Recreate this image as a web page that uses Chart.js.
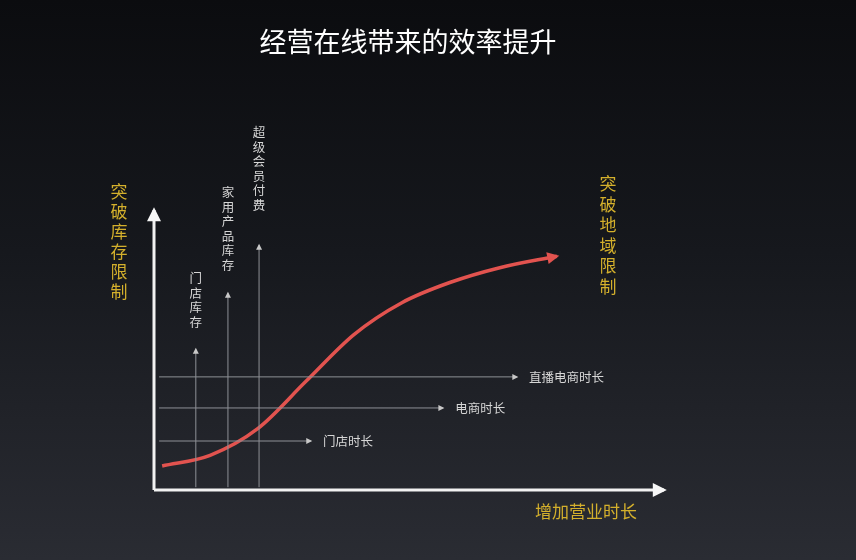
<!DOCTYPE html>
<html>
<head>
<meta charset="utf-8">
<script src="https://cdn.jsdelivr.net/npm/chart.js@4"></script>
<style>
  html, body { margin: 0; padding: 0; }
  body {
    width: 856px; height: 560px; overflow: hidden;
    background: linear-gradient(to bottom, #0b0c0f 0%, #16181d 45%, #2a2c33 100%);
  }
  canvas { display: block; }
</style>
</head>
<body>
<canvas id="chart" width="856" height="560"></canvas>
<script>
// efficiency curve (x: business hours, y: inventory limit)
const curveX = [1.6, 11.0, 20.4, 29.8, 39.2, 48.6, 58.0, 67.8, 79.0];
const curveY = [8.6, 12.4, 22.0, 38.8, 55.5, 66.9, 74.1, 79.4, 83.5];

// horizontal arrows: business hours
const hLabels = ['门店时长', '电商时长', '直播电商时长'];
const hLevels = [17.5, 29.3, 40.4];
const hEnds = [30.8, 56.7, 71.2];

// vertical arrows: inventory
const vLabels = ['门店库存', '家用产品库存', '超级会员付费'];
const vPositions = [8.2, 14.5, 20.6];
const vTops = [50.4, 70.4, 87.5];

const title = '经营在线带来的效率提升';
const yAxisLabel = '突破库存限制';
const curveLabel = '突破地域限制';
const xAxisLabel = '增加营业时长';

const FONT = '"Noto Sans CJK SC", "Noto Sans", sans-serif';
const YELLOW = '#d4b02c';
// gap (px) between a vertical arrow tip and the last character of its label
const vLabelGap = [27, 28, 40];

let datasets = [];

// axes
datasets.push({
  data: [{x: 0, y: 0}, {x: 100, y: 0}],
  borderColor: '#f2f2f2', borderWidth: 3, arrow: 14, arrowColor: '#f7f7f7'
});
datasets.push({
  data: [{x: 0, y: 0}, {x: 0, y: 100}],
  borderColor: '#f2f2f2', borderWidth: 3, arrow: 14, arrowColor: '#f7f7f7'
});

hLevels.forEach((lv, i) => {
  datasets.push({
    data: [{x: 1, y: lv}, {x: hEnds[i], y: lv}],
    borderColor: '#8e9096', borderWidth: 1, arrow: 6, arrowColor: '#c8c8c8',
    label: hLabels[i], labelSide: 'right'
  });
});

vPositions.forEach((px, i) => {
  datasets.push({
    data: [{x: px, y: 1}, {x: px, y: vTops[i]}],
    borderColor: '#8e9096', borderWidth: 1, arrow: 6, arrowColor: '#c8c8c8',
    label: vLabels[i], labelSide: 'top', labelGap: vLabelGap[i]
  });
});

datasets.push({
  data: curveX.map((x, i) => ({x: x, y: curveY[i]})),
  borderColor: '#e2534f', borderWidth: 3.5, cubicInterpolationMode: 'monotone',
  arrow: 12, arrowColor: '#e2534f', curved: true
});

datasets.forEach(d => { d.pointRadius = 0; d.clip = false; d.fill = false; });

const decorations = {
  id: 'decorations',
  afterDatasetsDraw(chart) {
    const ctx = chart.ctx;
    const area = chart.chartArea;
    ctx.save();

    chart.data.datasets.forEach((ds, i) => {
      const pts = chart.getDatasetMeta(i).data;
      const b = pts[pts.length - 1];
      // use the bezier control point when there is one, so the head follows the curve
      let ax = pts[pts.length - 2].x, ay = pts[pts.length - 2].y;
      if (ds.curved && b.cp1x !== undefined) { ax = b.cp1x; ay = b.cp1y; }
      const ang = Math.atan2(b.y - ay, b.x - ax);

      if (ds.arrow) {
        const s = ds.arrow;
        ctx.save();
        ctx.translate(b.x, b.y);
        ctx.rotate(ang);
        ctx.beginPath();
        ctx.moveTo(s * 0.2, 0);
        ctx.lineTo(-s * 0.8, -s * 0.5);
        ctx.lineTo(-s * 0.8, s * 0.5);
        ctx.closePath();
        ctx.fillStyle = ds.arrowColor;
        ctx.fill();
        ctx.restore();
      }

      if (ds.label) {
        ctx.fillStyle = '#d6d6d6';
        ctx.font = '12.5px ' + FONT;
        if (ds.labelSide === 'right') {
          ctx.textAlign = 'left';
          ctx.textBaseline = 'middle';
          ctx.fillText(ds.label, b.x + 12, b.y);
        } else {
          ctx.textAlign = 'center';
          ctx.textBaseline = 'middle';
          const chars = Array.from(ds.label);
          const pitch = 14.5;
          const bottom = b.y - ds.labelGap;
          chars.forEach((c, k) => {
            ctx.fillText(c, b.x, bottom - (chars.length - 1 - k) * pitch);
          });
        }
      }
    });

    // title
    ctx.fillStyle = '#ffffff';
    ctx.font = '27px ' + FONT;
    ctx.textAlign = 'center';
    ctx.textBaseline = 'middle';
    ctx.fillText(title, 408, 42);

    // yellow axis captions
    ctx.fillStyle = YELLOW;
    ctx.font = '17px ' + FONT;
    Array.from(yAxisLabel).forEach((c, k) => {
      ctx.fillText(c, area.left - 35, area.top - 18 + k * 20);
    });
    Array.from(curveLabel).forEach((c, k) => {
      ctx.fillText(c, area.left + 454, area.top - 26 + k * 20.5);
    });
    ctx.fillText(xAxisLabel, area.right - 78, area.bottom + 22);

    ctx.restore();
  }
};

new Chart(document.getElementById('chart'), {
  type: 'line',
  data: { datasets: datasets },
  options: {
    responsive: false,
    animation: false,
    layout: { padding: { left: 154, right: 192, top: 210, bottom: 70 } },
    scales: {
      x: { type: 'linear', min: 0, max: 100, display: false },
      y: { type: 'linear', min: 0, max: 100, display: false }
    },
    plugins: {
      legend: { display: false },
      tooltip: { enabled: false }
    }
  },
  plugins: [decorations]
});
</script>
</body>
</html>
